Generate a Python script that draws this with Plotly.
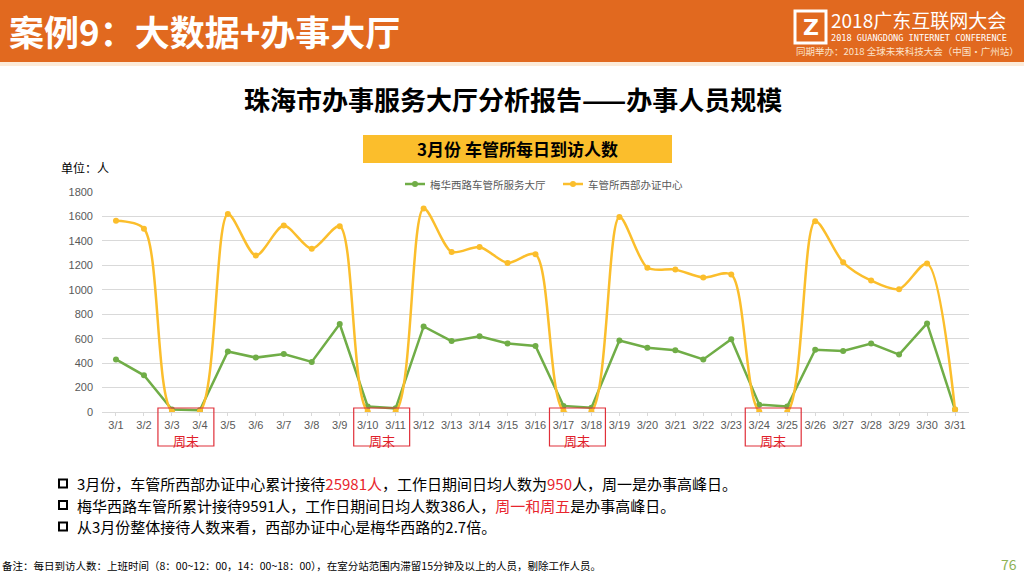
import plotly.graph_objects as go

categories = [f"3/{d}" for d in range(1, 32)]
meihua = [430, 300, 20, 15, 495, 445, 475, 410, 720, 45, 30, 700, 580, 620, 560, 540,
          50, 35, 585, 525, 505, 430, 595, 60, 45, 510, 500, 560, 470, 725, 20]
xibu = [1565, 1500, 5, 5, 1620, 1280, 1525, 1335, 1520, 5, 5, 1665, 1310, 1350, 1220, 1290,
        10, 5, 1595, 1180, 1165, 1100, 1125, 5, 0, 1560, 1225, 1075, 1005, 1215, 20]
series_names = ["梅华西路车管所服务大厅", "车管所西部办证中心"]
series_colors = ["#70AD47", "#FBBE2C"]
weekends = [("3/3", "3/4"), ("3/10", "3/11"), ("3/17", "3/18"), ("3/24", "3/25")]
y_ticks = [0, 200, 400, 600, 800, 1000, 1200, 1400, 1600, 1800]

W, H = 1024, 576
L, R, T, B = 102, 969, 192, 412
FONT = "Noto Sans CJK SC, Noto Sans, sans-serif"

def px(x):
    return (x - L) / (R - L)

def py(y):
    return (B - y) / (B - T)

fig = go.Figure()
fig.add_trace(go.Scatter(x=categories, y=meihua, name=series_names[0], mode="lines+markers",
                         line=dict(color=series_colors[0], width=2.5), marker=dict(size=6, color=series_colors[0])))
fig.add_trace(go.Scatter(x=categories, y=xibu, name=series_names[1], mode="lines+markers",
                         line=dict(color=series_colors[1], width=2.5, shape="spline", smoothing=0.8),
                         marker=dict(size=6, color=series_colors[1])))

shapes = []
annotations = []

# header band
shapes.append(dict(type="rect", xref="paper", yref="paper", x0=px(0), x1=px(W), y0=py(62), y1=py(0),
                   fillcolor="#E1691F", line=dict(width=0), layer="below"))
shapes.append(dict(type="rect", xref="paper", yref="paper", x0=px(0), x1=px(W), y0=py(66), y1=py(62),
                   fillcolor="#FCEBD9", line=dict(width=0), layer="below"))
annotations.append(dict(text="<b>案例9：大数据+办事大厅</b>", xref="paper", yref="paper", x=px(7), y=py(31),
                        xanchor="left", yanchor="middle", showarrow=False,
                        font=dict(family=FONT, size=35, color="white")))
# logo
shapes.append(dict(type="rect", xref="paper", yref="paper", x0=px(795), x1=px(826), y0=py(43), y1=py(11),
                   line=dict(color="white", width=3), fillcolor="rgba(0,0,0,0)"))
annotations.append(dict(text="<b>Z</b>", xref="paper", yref="paper", x=px(810.5), y=py(27),
                        xanchor="center", yanchor="middle", showarrow=False,
                        font=dict(family="DejaVu Sans", size=22, color="white")))
annotations.append(dict(text="2018广东互联网大会", xref="paper", yref="paper", x=px(829), y=py(19),
                        xanchor="left", yanchor="middle", showarrow=False,
                        font=dict(family=FONT, size=19, color="white")))
annotations.append(dict(text="2018 GUANGDONG INTERNET CONFERENCE", xref="paper", yref="paper", x=px(829), y=py(38),
                        xanchor="left", yanchor="middle", showarrow=False,
                        font=dict(family="DejaVu Sans Mono", size=8.6, color="white")))
annotations.append(dict(text="同期举办：2018 全球未来科技大会（中国·广州站）", xref="paper", yref="paper", x=px(794), y=py(50.5),
                        xanchor="left", yanchor="middle", showarrow=False,
                        font=dict(family=FONT, size=9.5, color="#FBE3CC")))

# main title
annotations.append(dict(text="<b>珠海市办事服务大厅分析报告——办事人员规模</b>", xref="paper", yref="paper",
                        x=px(513), y=py(98), xanchor="center", yanchor="middle", showarrow=False,
                        font=dict(family=FONT, size=26, color="black")))
# yellow title box
shapes.append(dict(type="rect", xref="paper", yref="paper", x0=px(363), x1=px(672), y0=py(163), y1=py(135),
                   fillcolor="#FBBE2C", line=dict(width=0), layer="below"))
annotations.append(dict(text="<b>3月份 车管所每日到访人数</b>", xref="paper", yref="paper",
                        x=px(517), y=py(149), xanchor="center", yanchor="middle", showarrow=False,
                        font=dict(family=FONT, size=17, color="black")))
annotations.append(dict(text="单位：人", xref="paper", yref="paper", x=px(59), y=py(167),
                        xanchor="left", yanchor="middle", showarrow=False,
                        font=dict(family=FONT, size=12, color="black")))

# manual legend
for name, color, x0 in zip(series_names, series_colors, [405, 563]):
    shapes.append(dict(type="line", xref="paper", yref="paper", x0=px(x0), x1=px(x0 + 20), y0=py(184), y1=py(184),
                       line=dict(color=color, width=2.5)))
    shapes.append(dict(type="circle", xref="paper", yref="paper", x0=px(x0 + 7), x1=px(x0 + 13),
                       y0=py(187), y1=py(181), fillcolor=color, line=dict(color=color, width=0)))
    annotations.append(dict(text=name, xref="paper", yref="paper", x=px(x0 + 23), y=py(184),
                            xanchor="left", yanchor="middle", showarrow=False,
                            font=dict(family=FONT, size=10.5, color="#595959")))

# weekend boxes
for a, b in weekends:
    i0, i1 = categories.index(a), categories.index(b)
    shapes.append(dict(type="rect", xref="x", yref="paper", x0=i0 - 0.5, x1=i1 + 0.5,
                       y0=py(446), y1=py(408), line=dict(color="#E0303A", width=1.2)))
    annotations.append(dict(text="周末", xref="x", yref="paper", x=(i0 + i1) / 2, y=py(440),
                            xanchor="center", yanchor="middle", showarrow=False,
                            font=dict(family=FONT, size=13, color="#E0202A")))

# bullets
RED = "#E8262E"
bullets = [
    f"3月份，车管所西部办证中心累计接待<span style='color:{RED}'>25981人</span>，工作日期间日均人数为<span style='color:{RED}'>950</span>人，周一是办事高峰日。",
    f"梅华西路车管所累计接待9591人，工作日期间日均人数386人，<span style='color:{RED}'>周一和周五</span>是办事高峰日。",
    "从3月份整体接待人数来看，西部办证中心是梅华西路的2.7倍。",
]
for txt, yy in zip(bullets, [483.5, 505, 526.5]):
    shapes.append(dict(type="rect", xref="paper", yref="paper", x0=px(59), x1=px(67), y0=py(yy + 4), y1=py(yy - 4),
                       line=dict(color="black", width=2), fillcolor="white"))
    annotations.append(dict(text=txt, xref="paper", yref="paper", x=px(75), y=py(yy),
                            xanchor="left", yanchor="middle", align="left", showarrow=False,
                            font=dict(family=FONT, size=15, color="black")))

annotations.append(dict(text="备注：每日到访人数：上班时间（8：00~12：00，14：00~18：00），在室分站范围内滞留15分钟及以上的人员，剔除工作人员。",
                        xref="paper", yref="paper", x=px(0), y=py(565), xanchor="left", yanchor="middle",
                        showarrow=False, font=dict(family=FONT, size=10.5, color="black")))
annotations.append(dict(text="76", xref="paper", yref="paper", x=px(1019), y=py(564), xanchor="right",
                        yanchor="middle", showarrow=False, font=dict(family=FONT, size=14, color="#8DB255")))

fig.update_layout(
    width=W, height=H,
    margin=dict(l=L, r=W - R, t=T, b=H - B, pad=0),
    paper_bgcolor="white", plot_bgcolor="white",
    font=dict(family=FONT, color="#595959"),
    shapes=shapes, annotations=annotations,
    showlegend=False,
    xaxis=dict(type="category", categoryorder="array", categoryarray=categories,
               showgrid=False, showline=True, linecolor="#D9D9D9", linewidth=1,
               ticks="outside", ticklen=3, tickcolor="#D9D9D9",
               tickfont=dict(size=11, color="#595959", family="Liberation Sans, Arial"),
               range=[-0.5, len(categories) - 0.5], tickangle=0, fixedrange=True),
    yaxis=dict(range=[0, 1800], tickvals=y_ticks, showgrid=True, gridcolor="#D9D9D9", gridwidth=1,
               zeroline=False, showline=False, fixedrange=True,
               tickfont=dict(size=11, color="#595959", family="Liberation Sans, Arial"), ticklabelstandoff=8),
)

fig.write_html("out.html", config={"displayModeBar": False},
               post_script="document.body.style.margin='0px';document.body.style.padding='0px';")
